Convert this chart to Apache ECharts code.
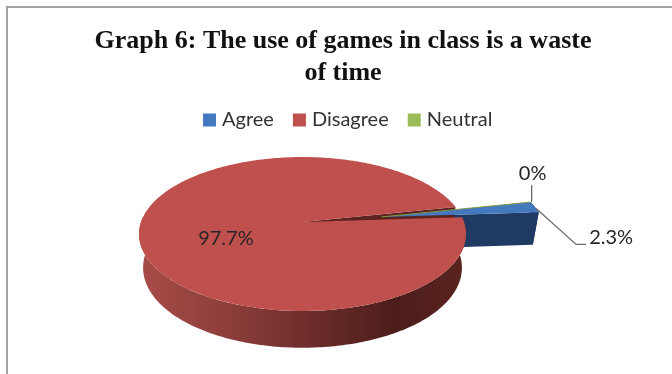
<!DOCTYPE html>
<html>
<head>
<meta charset="utf-8">
<style>html,body{margin:0;padding:0;background:#fff}#chart{width:672px;height:374px}</style>
<script src="https://cdn.jsdelivr.net/npm/echarts@6/dist/echarts.min.js"></script>
</head>
<body>
<div id="chart"></div>
<script>
// Survey responses, in percent
const categories = ['Agree', 'Disagree', 'Neutral'];
const shares = [2.3, 97.7, 0];
const percentLabels = ['2.3%', '97.7%', '0%'];
const chartTitle = 'Graph 6: The use of games in class is a waste\nof time';
const topColors = ['#4579bf', '#c0504d', '#9bbb59'];

// Tilted disc: a unit circle seen in perspective, extruded downward
const disc = { cx: 302.5, cy: 222, rx: 161.5, ry: 75.1, k: -0.156, depth: 33, depthNear: 6, taper: 0.025 };
const firstAngle = -12;        // where the first slice begins, degrees clockwise from east
const explodeDistance = 0.5;   // how far the small slices are pulled out, in radii
const explodedCategories = ['Agree', 'Neutral'];

const rad = d => d * Math.PI / 180;

function project(x, y, level) {
  const w = 1 + disc.k * y;
  const s = 1 - disc.taper * level;
  const drop = (disc.depth + disc.depthNear * y) * level;
  return [disc.cx + disc.rx * s * x / w, disc.cy + disc.ry * s * y / w + drop];
}

function sliceAngles(i) {
  const total = shares.reduce((a, b) => a + b, 0);
  let from = firstAngle;
  for (let n = 0; n < i; n++) from += shares[n] / total * 360;
  return [from, from + shares[i] / total * 360];
}

// Offset shared by the exploded slices, along the bisector of the visible wedge
function explodeOffset() {
  const [a, b] = sliceAngles(0);
  const mid = rad((a + b) / 2);
  return [explodeDistance * Math.cos(mid), explodeDistance * Math.sin(mid)];
}

function rimPoint(angle, offset, level) {
  return project(Math.cos(rad(angle)) + offset[0], Math.sin(rad(angle)) + offset[1], level);
}

function arc(from, to, offset, level) {
  const pts = [];
  const steps = Math.max(1, Math.ceil(Math.abs(to - from)));
  for (let i = 0; i <= steps; i++) pts.push(rimPoint(from + (to - from) * i / steps, offset, level));
  return pts;
}

const poly = (points, fill, z2) => ({ type: 'polygon', z2, shape: { points }, style: { fill } });
const line = (points, stroke, lineWidth, z2) => ({
  type: 'polyline', z2, shape: { points }, style: { stroke, lineWidth, fill: null }
});
const caption = (x, y, text, z2) => ({
  type: 'text', z2,
  style: { x, y, text, fill: '#262626', font: '20px Lato', align: 'center', verticalAlign: 'middle' }
});

function renderSlice(params) {
  const i = params.seriesIndex;
  const [from, to] = sliceAngles(i);
  const offset = explodedCategories.includes(categories[i]) ? explodeOffset() : [0, 0];
  const apexTop = project(offset[0], offset[1], 0);
  const apexBottom = project(offset[0], offset[1], 1);
  const children = [];

  if (categories[i] === 'Agree') {
    children.push(poly([apexTop, rimPoint(to, offset, 0), rimPoint(to, offset, 1), apexBottom], '#1f3b63', 1));
    children.push(poly(arc(from, to, offset, 0).concat(arc(to, from, offset, 1)), '#1f3b63', 1));
    children.push(poly([apexTop].concat(arc(from, to, offset, 0)), topColors[i], 5));
    const tip = rimPoint(to - 3, offset, 0);
    const elbow = [tip[0] + 40, tip[1] + 36];
    children.push(line([tip, elbow, [elbow[0] + 10, elbow[1]]], '#6a6a6a', 1.3, 7));
    children.push(caption(elbow[0] + 35, elbow[1] - 7, percentLabels[i], 7));
  }

  if (categories[i] === 'Disagree') {
    // Outer wall across the front of the disc
    const wall = arc(from, 184, offset, 0).concat(arc(184, from, offset, 1));
    children.push({
      type: 'polygon', z2: 2, shape: { points: wall },
      style: {
        fill: new echarts.graphic.LinearGradient(0, 0, 1, 0, [
          { offset: 0, color: '#a84c48' },
          { offset: 0.25, color: '#8f3f3b' },
          { offset: 0.5, color: '#702f2c' },
          { offset: 0.78, color: '#4c1d1a' },
          { offset: 1, color: '#5a2420' }
        ])
      }
    });
    // Cut face seen through the gap left by the pulled-out slice
    children.push(poly([apexTop, rimPoint(to, offset, 0), rimPoint(to, offset, 1), apexBottom], '#5a2320', 3));
    children.push(poly([apexTop].concat(arc(from, to, offset, 0)), topColors[i], 4));
    const textAngle = from + (to - from) * 0.5;
    const anchor = project(0.48 * Math.cos(rad(textAngle)), 0.48 * Math.sin(rad(textAngle)), 0);
    children.push(caption(anchor[0] + 1, anchor[1] + 12, percentLabels[i], 7));
  }

  if (categories[i] === 'Neutral') {
    const edge = rimPoint(from, offset, 0);
    children.push(line([apexTop, edge], '#7f9a45', 1, 6));
    children.push(line([[edge[0] + 1, edge[1]], [edge[0] + 1, edge[1] - 17]], '#6a6a6a', 1.3, 7));
    children.push(caption(edge[0] + 2, edge[1] - 29, percentLabels[i], 7));
  }

  return { type: 'group', children };
}

const chart = echarts.init(document.getElementById('chart'), null, { renderer: 'canvas' });
chart.setOption({
  animation: false,
  backgroundColor: '#ffffff',
  title: {
    text: chartTitle,
    left: 338, top: 20, textAlign: 'center',
    textStyle: { fontFamily: '"Liberation Serif"', fontWeight: 'bold', fontSize: 26, lineHeight: 32, color: '#111' }
  },
  legend: {
    data: categories,
    left: 198, top: 105,
    icon: 'rect', itemWidth: 13, itemHeight: 13, itemGap: 19,
    selectedMode: false,
    textStyle: { fontFamily: 'Lato', fontSize: 20, color: '#333', padding: [0, 0, 0, 1] }
  },
  graphic: [{
    type: 'polyline', silent: true,
    shape: { points: [[7, 374], [7, 7], [672, 7]] },
    style: { stroke: '#a2a2a2', lineWidth: 2, fill: null }
  }],
  series: categories.map((name, i) => ({
    type: 'custom',
    name,
    coordinateSystem: 'none',
    silent: true,
    itemStyle: { color: topColors[i] },
    renderItem: renderSlice,
    data: [shares[i]]
  }))
});
</script>
</body>
</html>
